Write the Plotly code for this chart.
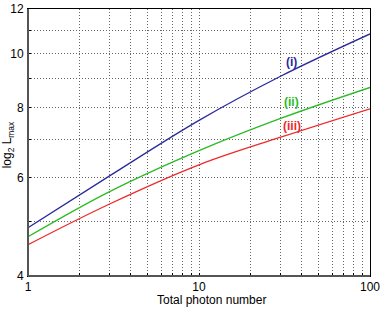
import numpy as np
import plotly.graph_objects as go

photons = [1, 3, 10, 30, 100]
curve_i = [4.88, 6.04, 7.59, 9.10, 10.83]
curve_ii = [4.70, 5.66, 6.70, 7.65, 8.69]
curve_iii = [4.55, 5.38, 6.32, 7.08, 7.96]

x_ticks = [1, 2, 3, 4, 5, 6, 7, 8, 9, 10, 20, 30, 40, 50, 60, 70, 80, 90, 100]
x_labels = ["1"] + [""] * 8 + ["10"] + [""] * 8 + ["100"]
y_ticks = [4, 5, 6, 7, 8, 9, 10, 11, 12]
y_labels = ["4", "", "6", "", "8", "", "10", "", "12"]

series = [
    ("(i)", curve_i, "#2a2a9c", 34.8, 9.66),
    ("(ii)", curve_ii, "#2bbb24", 34.8, 8.18),
    ("(iii)", curve_iii, "#ee2a2a", 34.8, 7.42),
]

FONT = "Liberation Sans, Arial"
fig = go.Figure()
for name, ys, col, lx, ly in series:
    fig.add_trace(go.Scatter(x=photons, y=ys, mode="lines", line=dict(color=col, width=1.3, shape="spline"),
                             showlegend=False, hoverinfo="skip"))
    fig.add_annotation(x=np.log10(lx), y=np.log10(ly), text="<b>" + name + "</b>", showarrow=False,
                       font=dict(color=col, size=12, family=FONT))

yrange = [np.log10(4), np.log10(12)]
grid = dict(showgrid=True, gridcolor="#666666", griddash="1px,2px", gridwidth=1)
fig.update_xaxes(type="log", range=[0, 2], tickvals=x_ticks, ticktext=x_labels, ticks="inside", ticklen=3,
                 tickcolor="#000", showline=True, linecolor="#000", mirror=True, zeroline=False,
                 automargin=False, **grid)
fig.update_yaxes(type="log", range=yrange, tickvals=y_ticks, showticklabels=False,
                 ticks="inside", ticklen=3, tickcolor="#000", showline=True, linecolor="#000", mirror=True,
                 zeroline=False, automargin=False, **grid)
# label-only axis, so the labels sit close to the frame as in the reference
fig.update_layout(yaxis2=dict(type="log", range=yrange, tickvals=y_ticks, ticktext=y_labels, overlaying="y",
                              anchor="free", position=0, side="left", showgrid=False, showline=False,
                              ticks="outside", ticklen=2, tickcolor="rgba(0,0,0,0)", zeroline=False,
                              automargin=False, tickfont=dict(size=12, family=FONT, color="#000")))
fig.add_trace(go.Scatter(x=[1], y=[4], yaxis="y2", mode="markers", marker=dict(opacity=0),
                         showlegend=False, hoverinfo="skip"))
fig.add_annotation(x=0.538, y=-0.09, xref="paper", yref="paper", text="Total photon number", showarrow=False,
                   font=dict(size=12, family=FONT), yanchor="middle")
fig.add_annotation(x=-0.058, y=0.49, xref="paper", yref="paper", text="log<sub>2</sub> L<sub>max</sub>",
                   showarrow=False, textangle=-90, font=dict(size=12, family=FONT), xanchor="center")
fig.add_shape(type="line", xref="paper", yref="paper", x0=0, x1=0, y0=0, y1=1, line=dict(color="#555", width=2))
fig.add_shape(type="line", xref="paper", yref="paper", x0=0, x1=1, y0=0, y1=0, line=dict(color="#555", width=2))
fig.update_layout(width=381, height=309, margin=dict(l=28, r=11, t=9, b=33),
                  paper_bgcolor="white", plot_bgcolor="white",
                  font=dict(family=FONT, size=12, color="#000"))
fig.write_html("out.html", config={"displayModeBar": False},
               post_script="document.body.style.margin='0';document.body.style.overflow='hidden';")
